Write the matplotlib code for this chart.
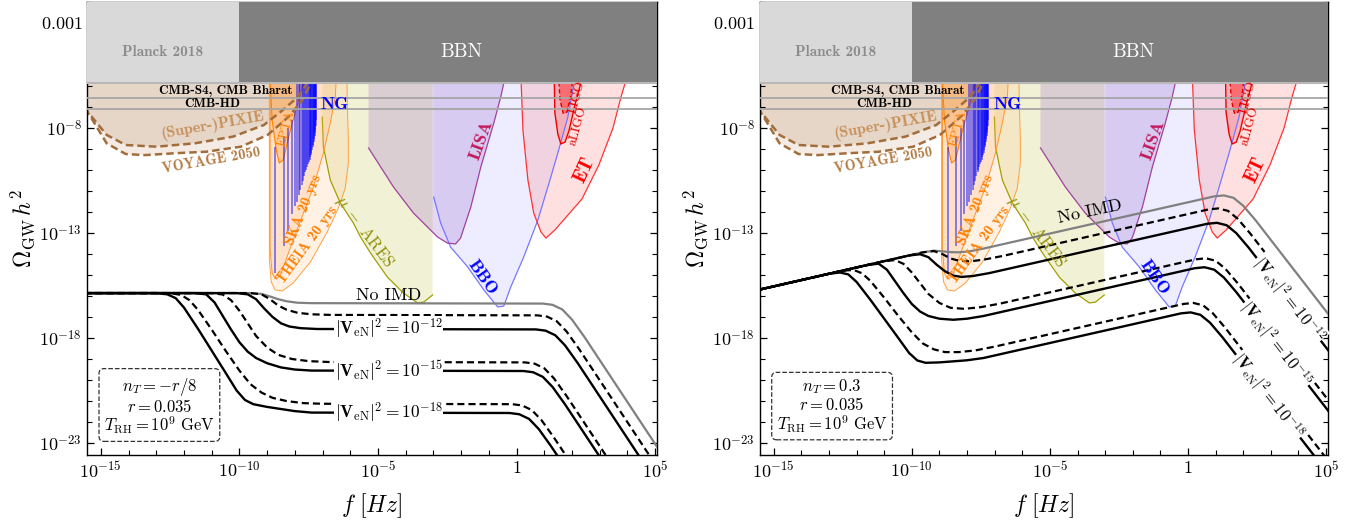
"""Primordial GW spectra with intermediate matter domination, vs detector sensitivities."""

import matplotlib.pyplot as plt
import numpy as np
from matplotlib.ticker import FixedLocator, FixedFormatter, NullFormatter

plt.rcParams['mathtext.fontset'] = 'cm'
plt.rcParams['font.family'] = ['cmr10', 'DejaVu Serif']
plt.rcParams['axes.formatter.use_mathtext'] = True
plt.rcParams['axes.unicode_minus'] = False

# all values are log10 f [Hz] and log10 Omega_GW h^2
F_MIN, F_MAX = -15.5, 5.07
O_MIN, O_MAX = -23.57, -2.0
TOP = -4.5  # sensitivity regions continue under the BBN band

planck_f = [-15.6, -10.0]
bbn_f = [-10.0, 5.2]
band_bottom = -5.86
cmb_s4 = -6.57
cmb_hd = -7.1

pixie_f = [-15.6, -15.48, -14.79, -14.10, -12.99, -11.61, -10.23, -9.12, -8.43, -7.88, -7.59, -7.37]
pixie_o = [-7.0, -7.22, -8.33, -8.81, -8.89, -8.73, -8.41, -7.86, -7.14, -6.51, -5.95, -4.76]
voyage_f = [-15.6, -15.41, -14.79, -14.10, -13.41, -12.30, -11.20, -9.95, -8.98, -8.22, -7.73, -7.46, -7.23]
voyage_o = [-7.1, -7.38, -8.73, -9.24, -9.29, -9.20, -9.13, -8.89, -8.33, -7.46, -6.67, -5.95, -4.76]

theia_f = [-8.92, -8.92, -8.85, -8.71, -8.45, -8.06, -7.44, -6.83, -6.43, -6.18, -6.07, -6.07, -6.10, -6.14]
theia_o = [-4.5, -14.29, -15.33, -15.71, -15.76, -15.38, -14.38, -12.95, -11.81, -10.86, -9.67, -8.57, -7.14, -4.5]
ska_f = [-8.89, -8.89, -8.82, -8.71, -8.53, -8.06, -7.69, -7.33, -6.97, -6.72, -6.54, -6.46]
ska_o = [-4.5, -13.81, -14.90, -15.19, -15.05, -13.33, -12.05, -10.81, -9.19, -7.76, -6.52, -4.5]
epta_f = [-8.89, -8.89, -8.82, -8.67, -8.56, -8.42, -8.16, -7.91, -7.69, -7.60]
epta_o = [-4.5, -5.86, -7.62, -9.05, -9.67, -9.52, -8.10, -6.90, -5.86, -4.5]

ares_f = [-7.01, -6.97, -6.72, -6.36, -5.89, -5.63, -5.27, -4.66, -4.08, -3.57, -3.35, -3.03]
ares_o = [-7.48, -8.90, -10.48, -11.57, -12.52, -13.19, -13.95, -15.10, -15.86, -16.33, -16.29, -15.95]
lisa_f = [-5.34, -4.44, -3.72, -2.85, -2.49, -2.20, -2.02, -1.65, -1.29, -0.82, -0.57, -0.46, -0.40]
lisa_o = [-8.95, -10.81, -12.05, -13.19, -13.48, -13.52, -13.24, -11.76, -9.86, -7.76, -6.52, -5.86, -4.5]
bbo_f = [-2.99, -2.74, -2.38, -1.76, -1.18, -0.68, -0.46, -0.21, 0.26, 0.77, 1.13, 1.49, 1.85, 2.03, 2.15]
bbo_o = [-11.29, -12.52, -13.67, -14.62, -15.71, -16.52, -16.48, -15.57, -14.14, -12.38, -10.81, -9.19, -7.48, -6.19, -4.5]
et_f = [0.13, 0.23, 0.41, 0.62, 0.88, 1.06, 1.38, 2.36, 2.97, 3.48, 3.77, 3.92, 4.0]
et_o = [-4.5, -8.10, -10.48, -12.05, -12.95, -13.24, -12.86, -11.38, -9.76, -8.0, -6.52, -5.86, -4.5]
aligo_f = [1.35, 1.38, 1.49, 1.60, 1.75, 1.89, 2.11, 2.32, 2.40]
aligo_o = [-4.5, -7.24, -8.29, -8.76, -8.67, -8.14, -6.90, -5.86, -4.5]
ligo_f = [1.53, 1.53, 1.57, 1.69, 1.82, 1.93, 2.00, 2.02]
ligo_o = [-4.5, -5.86, -6.67, -7.33, -7.24, -6.62, -6.05, -4.5]

# NANOGrav violins (30 frequency bins)
ng_f = [-8.70, -8.40, -8.23, -8.10, -8.00, -7.93, -7.86, -7.80, -7.75, -7.70,
        -7.66, -7.62, -7.59, -7.56, -7.53, -7.50, -7.47, -7.45, -7.42, -7.40,
        -7.38, -7.36, -7.34, -7.32, -7.30, -7.29, -7.27, -7.26, -7.24, -7.23]
ng_lo = [-14.9, -13.6, -12.9, -12.1, -11.7, -11.5, -11.2, -10.95, -10.7, -10.5,
         -10.3, -10.1, -10.0, -9.85, -9.7, -9.6, -9.5, -9.4, -9.3, -9.2,
         -9.05, -8.9, -8.8, -8.65, -8.5, -8.4, -8.25, -8.1, -7.9, -7.6]
ng_hi = [-8.9, -8.4, -8.0, -7.6, -7.2] + [-4.5] * 25

# left panel, n_T = -r/8
L_gray_f = [-15.6, -9.6, -9.2, -8.9, -8.6, -8.3, -7.9, -7.4, 0.95, 1.3, 1.65, 2.0, 2.45, 5.3]
L_gray_o = [-15.86, -15.86, -15.9, -16.02, -16.15, -16.25, -16.32, -16.34, -16.36, -16.42, -16.64, -17.12, -17.95, -23.64]
L_d12_f = [-15.6, -9.6, -9.2, -8.9, -8.6, -8.3, -7.9, -7.4, -6.7, 0.75, 1.1, 1.45, 1.8, 2.25, 5.3]
L_d12_o = [-15.86, -15.86, -15.92, -16.15, -16.45, -16.65, -16.8, -16.87, -16.9, -16.92, -16.98, -17.2, -17.68, -18.51, -24.6]
L_s12_f = [-15.6, -10.1, -9.7, -9.4, -9.1, -8.8, -8.5, -8.2, -7.8, -7.2, 0.7, 1.05, 1.4, 1.75, 2.2, 5.3]
L_s12_o = [-15.86, -15.86, -15.92, -16.15, -16.6, -17.0, -17.3, -17.45, -17.53, -17.57, -17.59, -17.65, -17.87, -18.35, -19.18, -25.37]
L_d15_f = [-15.6, -11.0, -10.6, -10.3, -10.0, -9.7, -9.4, -9.0, -8.6, -8.1, -7.5, -6.8, 0.3, 0.65, 1.0, 1.35, 1.8, 3.93]
L_d15_o = [-15.86, -15.86, -15.93, -16.2, -16.7, -17.3, -17.9, -18.45, -18.8, -19.0, -19.1, -19.14, -19.16, -19.22, -19.44, -19.92, -20.75, -25.0]
L_s15_f = [-15.6, -11.6, -11.2, -10.9, -10.6, -10.3, -10.0, -9.7, -9.4, -9.0, -8.5, -8.0, -7.4, 0.25, 0.6, 0.95, 1.3, 1.75, 3.68]
L_s15_o = [-15.86, -15.86, -15.92, -16.3, -16.95, -17.6, -18.2, -18.65, -18.95, -19.2, -19.4, -19.5, -19.55, -19.57, -19.63, -19.85, -20.33, -21.16, -25.0]
L_d18_f = [-15.6, -12.5, -12.1, -11.8, -11.5, -11.0, -10.5, -10.0, -9.6, -9.2, -8.8, -8.3, -7.7, -7.0, -0.15, 0.2, 0.55, 0.9, 1.35, 2.49]
L_d18_o = [-15.86, -15.86, -15.95, -16.2, -16.65, -17.6, -18.6, -19.55, -20.2, -20.6, -20.85, -21.0, -21.1, -21.13, -21.15, -21.21, -21.43, -21.91, -22.74, -25.0]
L_s18_f = [-15.6, -13.0, -12.6, -12.3, -12.0, -11.5, -11.0, -10.5, -10.1, -9.8, -9.5, -9.0, -8.5, -8.0, -7.4, -0.25, 0.1, 0.45, 0.8, 1.25, 2.18]
L_s18_o = [-15.86, -15.86, -15.92, -16.1, -16.55, -17.55, -18.6, -19.65, -20.5, -20.95, -21.15, -21.28, -21.38, -21.48, -21.55, -21.57, -21.63, -21.85, -22.33, -23.16, -25.0]

# right panel, n_T = 0.3
R_gray_f = [-15.6, -9.6, -9.2, -8.9, -8.6, -8.3, -7.9, -7.4, 0.95, 1.3, 1.65, 2.0, 2.45, 5.3]
R_gray_o = [-15.72, -13.92, -13.84, -13.87, -13.91, -13.92, -13.87, -13.74, -11.255, -11.21, -11.325, -11.7, -12.395, -17.23]
R_d12_f = [-15.6, -9.6, -9.2, -8.9, -8.6, -8.3, -7.9, -7.4, -6.7, 0.75, 1.1, 1.45, 1.8, 2.25, 5.3]
R_d12_o = [-15.72, -13.92, -13.86, -14.0, -14.21, -14.32, -14.35, -14.27, -14.09, -11.875, -11.83, -11.945, -12.32, -13.015, -18.19]
R_s12_f = [-15.6, -10.1, -9.7, -9.4, -9.1, -8.8, -8.5, -8.2, -7.8, -7.2, 0.7, 1.05, 1.4, 1.75, 2.2, 5.3]
R_s12_o = [-15.72, -14.07, -14.01, -14.15, -14.51, -14.82, -15.03, -15.09, -15.05, -14.91, -12.56, -12.515, -12.63, -13.005, -13.7, -18.96]
R_d15_f = [-15.6, -11.0, -10.6, -10.3, -10.0, -9.7, -9.4, -9.0, -8.6, -8.1, -7.5, -6.8, 0.3, 0.65, 1.0, 1.35, 1.8, 5.3]
R_d15_o = [-15.72, -14.34, -14.29, -14.47, -14.88, -15.39, -15.9, -16.33, -16.56, -16.61, -16.53, -16.36, -14.25, -14.205, -14.32, -14.695, -15.39, -21.33]
R_s15_f = [-15.6, -11.6, -11.2, -10.9, -10.6, -10.3, -10.0, -9.7, -9.4, -9.0, -8.5, -8.0, -7.4, 0.25, 0.6, 0.95, 1.3, 1.75, 5.3]
R_s15_o = [-15.72, -14.52, -14.46, -14.75, -15.31, -15.87, -16.38, -16.74, -16.95, -17.08, -17.13, -17.08, -16.95, -14.675, -14.63, -14.745, -15.12, -15.815, -21.84]
R_d18_f = [-15.6, -12.5, -12.1, -11.8, -11.5, -11.0, -10.5, -10.0, -9.6, -9.2, -8.8, -8.3, -7.7, -7.0, -0.15, 0.2, 0.55, 0.9, 1.35, 5.3]
R_d18_o = [-15.72, -14.79, -14.76, -14.92, -15.28, -16.08, -16.93, -17.73, -18.26, -18.54, -18.67, -18.67, -18.59, -18.41, -16.375, -16.33, -16.445, -16.82, -17.515, -24.22]
R_s18_f = [-15.6, -13.0, -12.6, -12.3, -12.0, -11.5, -11.0, -10.5, -10.1, -9.8, -9.5, -9.0, -8.5, -8.0, -7.4, -0.25, 0.1, 0.45, 0.8, 1.25, 5.3]
R_s18_o = [-15.72, -14.94, -14.88, -14.97, -15.33, -16.18, -17.08, -17.98, -18.71, -19.07, -19.18, -19.16, -19.11, -19.06, -18.95, -16.825, -16.78, -16.895, -17.27, -17.965, -24.84]

x_ticks = [-15, -10, -5, 0, 5]
x_labels = [r'$10^{-15}$', r'$10^{-10}$', r'$10^{-5}$', r'$1$', r'$10^{5}$']
y_ticks = [-23, -18, -13, -8, -3]
y_labels = [r'$10^{-23}$', r'$10^{-18}$', r'$10^{-13}$', r'$10^{-8}$', r'$0.001$']

v_labels = [r'$|\mathbf{V}_{\rm eN}|^2 = 10^{-12}$',
            r'$|\mathbf{V}_{\rm eN}|^2 = 10^{-15}$',
            r'$|\mathbf{V}_{\rm eN}|^2 = 10^{-18}$']


def p(v):
    return 10.0 ** np.asarray(v, dtype=float)


def region(ax, f, o, face, alpha, edge=None, lw=0.8, ls='-', z=1.0):
    pf = list(f) + [f[-1], f[0]]
    po = list(o) + [TOP, TOP]
    ax.fill(p(pf), p(po), color=face, alpha=alpha, lw=0, zorder=z)
    if edge:
        ax.plot(p(f), p(o), color=edge, lw=lw, ls=ls, zorder=z + 0.05)


def label(ax, f, o, s, color, size, rot=0, family='cmr10', **kw):
    ax.text(10.0 ** f, 10.0 ** o, s, color=color, fontsize=size, rotation=rot,
            ha='center', va='center', family=family, rotation_mode='anchor',
            zorder=6, **kw)


def backdrop(ax):
    # CMB spectral distortion probes
    region(ax, voyage_f, voyage_o, '#c8a07a', 0.2, z=1.0)
    region(ax, pixie_f, pixie_o, '#b48a64', 0.22, z=1.01)
    dash = (0, (3.0, 1.6))
    ax.plot(p(voyage_f), p(voyage_o), color='#a26d3c', lw=1.8, ls=dash, zorder=2)
    ax.plot(p(pixie_f), p(pixie_o), color='#a26d3c', lw=1.8, ls=dash, zorder=2)

    # pulsar timing, astrometry
    region(ax, theia_f, theia_o, '#ffcc99', 0.25, '#ffa040', 0.7, z=1.1)
    region(ax, ska_f, ska_o, '#ffb070', 0.25, '#ff9530', 0.7, z=1.2)
    region(ax, epta_f, epta_o, '#ff9933', 0.3, '#ff8000', 0.8, z=1.3)
    ax.vlines(p(ng_f), p(ng_lo), p(ng_hi), color='#0000ff', alpha=0.5, lw=1.3, zorder=1.5)

    # space and ground based interferometers
    region(ax, ares_f, ares_o, '#cccc66', 0.27, '#a0a000', 0.9, z=1.05)
    region(ax, lisa_f, lisa_o, '#9966cc', 0.25, '#a040a0', 0.9, z=1.15)
    region(ax, bbo_f, bbo_o, '#8888ff', 0.15, '#7777ff', 0.9, z=1.12)
    region(ax, et_f, et_o, '#ff6666', 0.2, '#ff3333', 0.9, z=1.16)
    region(ax, aligo_f, aligo_o, '#ff4444', 0.25, '#ee0000', 1.0, z=1.17)
    region(ax, ligo_f, ligo_o, '#ff2020', 0.45, '#dd0000', 1.0, ls=(0, (3, 2)), z=1.18)

    # CMB projections and the Planck / BBN bound
    ax.axhline(10.0 ** cmb_s4, color='#a6a6a6', lw=1.3, zorder=3)
    ax.axhline(10.0 ** cmb_hd, color='#a6a6a6', lw=1.3, zorder=3)
    ax.fill(p([planck_f[0], planck_f[1], planck_f[1], planck_f[0]]),
            p([band_bottom, band_bottom, -1.5, -1.5]), color='#d9d9d9', lw=0, zorder=4)
    ax.fill(p([bbn_f[0], bbn_f[1], bbn_f[1], bbn_f[0]]),
            p([band_bottom, band_bottom, -1.5, -1.5]), color='#808080', lw=0, zorder=4)
    ax.axhline(10.0 ** band_bottom, color='#b8b8b8', lw=1.5, zorder=4.1)

    label(ax, -12.76, -4.38, 'Planck 2018', '#8c8c8c', 11, family='cmb10')
    label(ax, -1.98, -4.38, 'BBN', 'white', 14)
    label(ax, -10.5, -6.26, 'CMB-S4, CMB Bharat', 'black', 9.5, family='cmb10')
    label(ax, -10.99, -6.86, 'CMB-HD', 'black', 9.5, family='cmb10')
    label(ax, -6.55, -6.9, 'NG', '#0000ff', 13, family='cmb10')
    label(ax, -10.95, -7.86, '(Super-)PIXIE', '#c8915c', 11.5, rot=10, family='cmb10')
    label(ax, -11.02, -9.52, 'VOYAGE 2050', '#b57c45', 10.5, rot=10, family='cmb10')
    label(ax, -8.31, -8.0, 'EPTA', '#ff8000', 9.5, rot=75)
    label(ax, -7.69, -11.9, 'SKA 20 yrs', '#ff8000', 10.5, rot=68, family='cmb10')
    label(ax, -7.55, -13.57, 'THEIA 20 yrs', '#ff8000', 10.5, rot=54, family='cmb10')
    label(ax, -5.49, -12.95, r'$\mu\ -$ ARES', '#8c8c00', 12, rot=-53)
    label(ax, -1.26, -8.57, 'LISA', '#c2185b', 13, rot=70, family='cmb10')
    label(ax, -1.22, -15.1, 'BBO', '#0000ff', 13, rot=-55, family='cmb10')
    label(ax, 2.43, -10.0, 'ET', '#ff0000', 14, rot=65, family='cmb10')
    label(ax, 2.22, -7.9, 'aLIGO', '#e00000', 9.5, rot=75)
    label(ax, 2.18, -6.52, 'LIGO', '#e00000', 9.5, rot=75)


def curves(ax, gray, dashed, solid):
    ax.plot(p(gray[0]), p(gray[1]), color='#808080', lw=1.6, zorder=5)
    for f, o in dashed:
        ax.plot(p(f), p(o), color='black', lw=1.6, ls=(0, (3.2, 1.8)), zorder=5)
    for f, o in solid:
        ax.plot(p(f), p(o), color='black', lw=1.7, zorder=5)


def frame(ax):
    ax.set_xscale('log')
    ax.set_yscale('log')
    ax.set_xlim(10.0 ** F_MIN, 10.0 ** F_MAX)
    ax.set_ylim(10.0 ** O_MIN, 10.0 ** O_MAX)
    ax.xaxis.set_major_locator(FixedLocator(p(x_ticks)))
    ax.xaxis.set_major_formatter(FixedFormatter(x_labels))
    ax.xaxis.set_minor_locator(FixedLocator(p(np.arange(-15, 6))))
    ax.xaxis.set_minor_formatter(NullFormatter())
    ax.yaxis.set_major_locator(FixedLocator(p(y_ticks)))
    ax.yaxis.set_major_formatter(FixedFormatter(y_labels))
    ax.yaxis.set_minor_locator(FixedLocator(p(np.arange(-23, -1))))
    ax.yaxis.set_minor_formatter(NullFormatter())
    ax.tick_params(which='both', direction='in', top=True, right=True, labelsize=13)
    ax.tick_params(which='major', length=5, width=0.9)
    ax.tick_params(which='minor', length=3.5, width=0.8)
    ax.set_xlabel(r'$f\ [Hz]$', fontsize=17, labelpad=8)
    ax.set_ylabel(r'$\Omega_{\rm GW}\,h^2$', fontsize=17, labelpad=2)
    for s in ax.spines.values():
        s.set_linewidth(1.0)


def legend_box(ax, text):
    ax.text(0.127, 0.108, text, transform=ax.transAxes, ha='center', va='center',
            fontsize=12, linespacing=1.0, zorder=7,
            bbox=dict(boxstyle='round,pad=0.3,rounding_size=0.3', fc='white',
                      ec='#333333', ls='--', lw=0.9))


fig = plt.figure(figsize=(13.72, 5.23), dpi=100)
axL = fig.add_axes([0.0634, 0.1300, 0.4155, 0.8662])
axR = fig.add_axes([0.5539, 0.1300, 0.4140, 0.8662])

# left panel
backdrop(axL)
curves(axL, (L_gray_f, L_gray_o),
       [(L_d12_f, L_d12_o), (L_d15_f, L_d15_o), (L_d18_f, L_d18_o)],
       [(L_s12_f, L_s12_o), (L_s15_f, L_s15_o), (L_s18_f, L_s18_o)])
label(axL, -4.62, -15.98, 'No IMD', 'black', 13)
for lo, s in zip([-17.57, -19.55, -21.55], v_labels):
    label(axL, -4.62, lo, s, 'black', 12.5, family='cmr10',
          bbox=dict(fc='white', ec='none', pad=0.6))
legend_box(axL, '$n_T = -r/8$\n$r = 0.035$\n$T_{\\rm RH} = 10^9\\ {\\rm GeV}$')
frame(axL)

# right panel
backdrop(axR)
curves(axR, (R_gray_f, R_gray_o),
       [(R_d12_f, R_d12_o), (R_d15_f, R_d15_o), (R_d18_f, R_d18_o)],
       [(R_s12_f, R_s12_o), (R_s15_f, R_s15_o), (R_s18_f, R_s18_o)])
label(axR, -3.54, -12.0, 'No IMD', 'black', 13, rot=12)
for lf, lo, s in zip([3.65, 3.2, 2.9], [-16.16, -18.28, -20.77], v_labels):
    label(axR, lf, lo, s, 'black', 12, rot=-52,
          bbox=dict(fc='white', ec='none', pad=0.4))
legend_box(axR, '$n_T = 0.3$\n$r = 0.035$\n$T_{\\rm RH} = 10^9\\ {\\rm GeV}$')
frame(axR)

fig.savefig('out.png', dpi=100)
